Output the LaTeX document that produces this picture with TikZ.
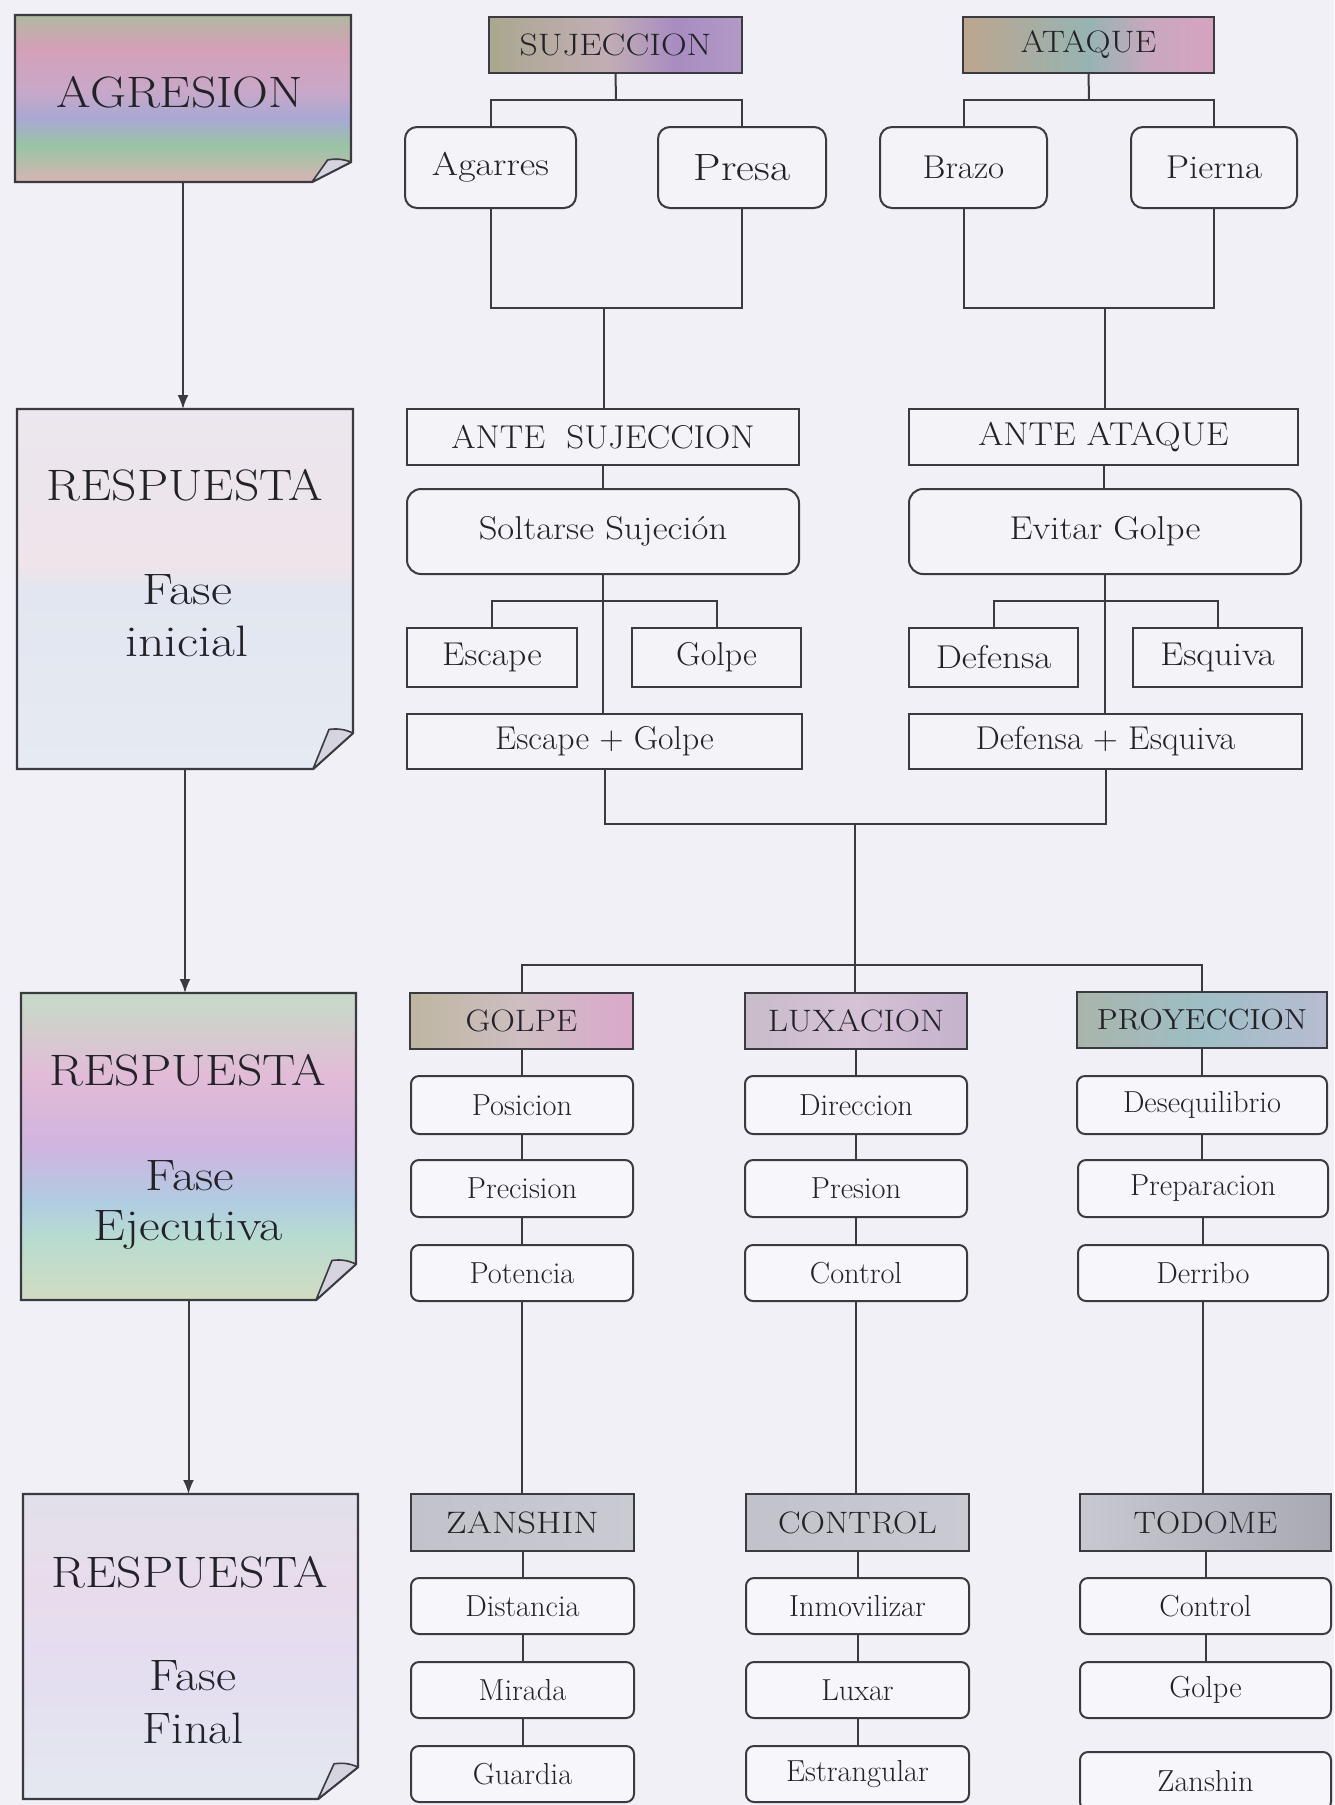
\documentclass[tikz,border=0pt]{standalone}
\usepackage{fontspec}
\usetikzlibrary{arrows.meta}
\definecolor{bgcol}{HTML}{F2F0F7}
\definecolor{lc}{HTML}{3A3A40}
\definecolor{tc}{HTML}{222228}
\definecolor{itemfill}{HTML}{F7F7FB}
\definecolor{midfill}{HTML}{F4F3F8}
\definecolor{flapc}{HTML}{D6D4DE}
\definecolor{sujA}{HTML}{A9A78F}\definecolor{sujB}{HTML}{C2AEB4}\definecolor{sujC}{HTML}{A88CC2}\definecolor{sujD}{HTML}{B29AC6}
\definecolor{ataA}{HTML}{BDA58E}\definecolor{ataB}{HTML}{96B4B2}\definecolor{ataC}{HTML}{C8A8BE}\definecolor{ataD}{HTML}{D6A2C0}
\definecolor{golA}{HTML}{BEB6A0}\definecolor{golB}{HTML}{CEBEC2}\definecolor{golC}{HTML}{DBA8CB}
\definecolor{luxA}{HTML}{C8BCCA}\definecolor{luxB}{HTML}{D6C2D6}\definecolor{luxC}{HTML}{C4B2CC}
\definecolor{proA}{HTML}{A9B5AB}\definecolor{proB}{HTML}{9EBEC4}\definecolor{proC}{HTML}{B8BCD2}
\definecolor{gryA}{HTML}{C2C2CA}\definecolor{gryB}{HTML}{CACAD2}
\definecolor{todA}{HTML}{C8C8D0}\definecolor{todB}{HTML}{A9A9B3}
\definecolor{agA}{HTML}{D8B4B4}\definecolor{agB}{HTML}{98C4A4}\definecolor{agC}{HTML}{A8A8D4}\definecolor{agD}{HTML}{C8A8C8}\definecolor{agE}{HTML}{D4A0B8}\definecolor{agF}{HTML}{B0B8A0}
\definecolor{raA}{HTML}{E6EAF2}\definecolor{raB}{HTML}{E2E6F0}\definecolor{raC}{HTML}{EEE4EA}\definecolor{raD}{HTML}{ECE6EE}
\definecolor{rbA}{HTML}{D2DCC2}\definecolor{rbB}{HTML}{B8DCD0}\definecolor{rbC}{HTML}{B0CCE2}\definecolor{rbD}{HTML}{D0B4E0}\definecolor{rbE}{HTML}{E2BCD6}\definecolor{rbF}{HTML}{C6DCC8}
\definecolor{rcA}{HTML}{E4E8F0}\definecolor{rcB}{HTML}{E4DEF0}\definecolor{rcC}{HTML}{E8DCEC}\definecolor{rcD}{HTML}{E2E0EA}
\pgfdeclarehorizontalshading{sujsh}{100bp}{color(0bp)=(sujA); color(25bp)=(sujA); color(48bp)=(sujB); color(62bp)=(sujC); color(75bp)=(sujD); color(100bp)=(sujD)}
\pgfdeclarehorizontalshading{atash}{100bp}{color(0bp)=(ataA); color(25bp)=(ataA); color(50bp)=(ataB); color(62bp)=(ataC); color(75bp)=(ataD); color(100bp)=(ataD)}
\pgfdeclarehorizontalshading{golsh}{100bp}{color(0bp)=(golA); color(25bp)=(golA); color(50bp)=(golB); color(75bp)=(golC); color(100bp)=(golC)}
\pgfdeclarehorizontalshading{luxsh}{100bp}{color(0bp)=(luxA); color(25bp)=(luxA); color(50bp)=(luxB); color(75bp)=(luxC); color(100bp)=(luxC)}
\pgfdeclarehorizontalshading{prosh}{100bp}{color(0bp)=(proA); color(25bp)=(proA); color(50bp)=(proB); color(75bp)=(proC); color(100bp)=(proC)}
\pgfdeclarehorizontalshading{grysh}{100bp}{color(0bp)=(gryA); color(25bp)=(gryA); color(75bp)=(gryB); color(100bp)=(gryB)}
\pgfdeclarehorizontalshading{todsh}{100bp}{color(0bp)=(todA); color(25bp)=(todA); color(75bp)=(todB); color(100bp)=(todB)}
\pgfdeclareverticalshading{agrsh}{100bp}{color(0bp)=(agA); color(25bp)=(agA); color(36bp)=(agB); color(44bp)=(agC); color(52bp)=(agD); color(65bp)=(agE); color(75bp)=(agF); color(100bp)=(agF)}
\pgfdeclareverticalshading{ronesh}{100bp}{color(0bp)=(raA); color(25bp)=(raA); color(50bp)=(raB); color(53bp)=(raC); color(75bp)=(raD); color(100bp)=(raD)}
\pgfdeclareverticalshading{rtwosh}{100bp}{color(0bp)=(rbA); color(25bp)=(rbA); color(35bp)=(rbB); color(41bp)=(rbC); color(50bp)=(rbD); color(62bp)=(rbE); color(75bp)=(rbF); color(100bp)=(rbF)}
\pgfdeclareverticalshading{rthreesh}{100bp}{color(0bp)=(rcA); color(25bp)=(rcA); color(45bp)=(rcB); color(60bp)=(rcC); color(75bp)=(rcD); color(100bp)=(rcD)}
\newcommand\fbig{\fontsize{22}{26}\selectfont}
\newcommand\fhead{\fontsize{15.5}{18}\selectfont}
\newcommand\fproy{\fontsize{14.5}{17}\selectfont}
\newcommand\fmid{\fontsize{16.5}{19}\selectfont}
\newcommand\fpresa{\fontsize{19}{22}\selectfont}
\newcommand\fitem{\fontsize{15.2}{18}\selectfont}
\newcommand\hs[2]{\scalebox{#1}[1]{#2}}
\newcommand\mybox[7]{%
 \pgfmathsetmacro\bxw{(#4-#2)*0.5}%
 \pgfmathsetmacro\bxh{(#5-#3)*0.5}%
 \pgfmathsetmacro\bxx{(#2+#4)/2}%
 \pgfmathsetmacro\bxy{(#3+#5)/2}%
 \node[#6, minimum width=\bxw pt, minimum height=\bxh pt] (#1) at (\bxx,\bxy) {#7};}
\newcommand\dogear[4]{%
 \path[bigbox, shading=#2] (#1.north west) -- (#1.north east) -- ([yshift=#4]#1.south east) -- ([xshift=-#3]#1.south east) -- (#1.south west) -- cycle;
 \path[flap] ([xshift=-#3]#1.south east) -- ++({0.4*#3},{1.1*#4}) to[bend left=15] ([yshift=#4]#1.south east) -- cycle;}
\begin{document}
\begin{tikzpicture}[x=0.5pt,y=-0.5pt,
  hdrbox/.style={draw=lc, line width=1pt, inner sep=0pt, outer sep=0pt, font=\fhead, text=tc},
  midbox/.style={draw=lc, line width=1pt, inner sep=0pt, outer sep=0pt, font=\fmid, text=tc, fill=midfill},
  rndbox/.style={midbox, rounded corners=6pt},
  itembox/.style={draw=lc, line width=1pt, inner sep=0pt, outer sep=0pt, font=\fitem, text=tc, fill=itemfill, rounded corners=4pt},
  bigbox/.style={draw=lc, line width=1.2pt},
  bigframe/.style={inner sep=0pt, outer sep=0pt},
  bigtext/.style={font=\fbig, text=tc, anchor=base, inner sep=0pt},
  flap/.style={draw=lc, line width=0.8pt, fill=flapc, line join=round},
  conn/.style={draw=lc, line width=1pt},
  arr/.style={conn, -{Latex[length=7pt,width=5.5pt]}}
]
\useasboundingbox (0,0) rectangle (1334,1805);
\fill[bgcol] (0,0) rectangle (1334,1805);

% ---------- left column ----------
\mybox{agr}{15}{15}{351}{182}{bigframe}{}
\dogear{agr}{agrsh}{19.5pt}{10pt}
\node[bigtext] (agrT) at (180,107) {\hs{1.13}{AGRESION}};

\mybox{r1}{17}{409}{353}{769}{bigframe}{}
\dogear{r1}{ronesh}{20pt}{18pt}
\node[bigtext] (r1a) at (185,500) {\hs{1.13}{RESPUESTA}};
\node[bigtext] (r1b) at (187,604) {\hs{1.17}{Fase}};
\node[bigtext] (r1c) at (187,656) {\hs{1.18}{inicial}};

\mybox{r2}{21}{993}{356}{1300}{bigframe}{}
\dogear{r2}{rtwosh}{20pt}{18pt}
\node[bigtext] (r2a) at (188,1085) {\hs{1.13}{RESPUESTA}};
\node[bigtext] (r2b) at (190,1190) {\hs{1.15}{Fase}};
\node[bigtext] (r2c) at (188,1240) {\hs{1.15}{Ejecutiva}};

\mybox{r3}{23}{1494}{358}{1799}{bigframe}{}
\dogear{r3}{rthreesh}{20pt}{16pt}
\node[bigtext] (r3a) at (190,1587) {\hs{1.13}{RESPUESTA}};
\node[bigtext] (r3b) at (193,1690) {\hs{1.12}{Fase}};
\node[bigtext] (r3c) at (193,1743) {\hs{1.1}{Final}};

\draw[arr] (agr.south) -- (agr.south |- r1.north);
\draw[arr] (r1.south) -- (r1.south |- r2.north);
\draw[arr] (r2.south) -- (r2.south |- r3.north);

% ---------- top ----------
\mybox{suj}{489}{17}{742}{73}{hdrbox, shading=sujsh}{\hs{1.15}{SUJECCION}}
\mybox{ataq}{963}{17}{1214}{73}{hdrbox, shading=atash}{\hs{1.12}{ATAQUE}}
\mybox{agar}{405}{127}{576}{208}{rndbox}{\hs{1.15}{Agarres}}
\mybox{presa}{658}{127}{826}{208}{rndbox, font=\fpresa}{\hs{1.15}{Presa}}
\mybox{brazo}{880}{127}{1047}{208}{rndbox}{\hs{1.06}{Brazo}}
\mybox{pierna}{1131}{127}{1297}{208}{rndbox}{\hs{1.12}{Pierna}}

\mybox{antesuj}{407}{409}{799}{465}{midbox}{\hs{1.06}{ANTE\ \ SUJECCION}}
\mybox{anteata}{909}{409}{1298}{465}{midbox}{\hs{1.1}{ANTE ATAQUE}}
\mybox{soltar}{407}{489}{799}{574}{midbox, rounded corners=7pt}{\hs{1.11}{Soltarse Sujeción}}
\mybox{evitar}{909}{489}{1301}{574}{midbox, rounded corners=7pt}{\hs{1.11}{Evitar Golpe}}
\mybox{esc}{407}{628}{577}{687}{midbox}{\hs{1.08}{Escape}}
\mybox{gol}{632}{628}{801}{687}{midbox}{\hs{1.03}{Golpe}}
\mybox{def}{909}{628}{1078}{687}{midbox}{\hs{1.12}{Defensa}}
\mybox{esq}{1133}{628}{1302}{687}{midbox}{\hs{1.11}{Esquiva}}
\mybox{escgol}{407}{714}{802}{769}{midbox}{\hs{1.02}{Escape + Golpe}}
\mybox{defesq}{909}{714}{1302}{769}{midbox}{\hs{1.04}{Defensa + Esquiva}}

\coordinate (sujTop) at (616,100);
\coordinate (sujBot) at (604,308);
\coordinate (ataTop) at (1089,100);
\coordinate (ataBot) at (1105,308);
\coordinate (escBr) at (604,601);
\coordinate (defBr) at (1105,601);
\coordinate (merge) at (855,824);
\coordinate (split) at (855,965);

\draw[conn] (suj.south) -- (sujTop);
\draw[conn] (agar.north) |- (sujTop) -| (presa.north);
\draw[conn] (agar.south) |- (sujBot) -| (presa.south);
\draw[conn] (sujBot) -- (sujBot |- antesuj.north);
\draw[conn] (ataq.south) -- (ataTop);
\draw[conn] (brazo.north) |- (ataTop) -| (pierna.north);
\draw[conn] (brazo.south) |- (ataBot) -| (pierna.south);
\draw[conn] (ataBot) -- (ataBot |- anteata.north);

\draw[conn] (antesuj.south) -- (antesuj.south |- soltar.north);
\draw[conn] (soltar.south) -- (soltar.south |- escgol.north);
\draw[conn] (esc.north) |- (escBr) -| (gol.north);
\draw[conn] (anteata.south) -- (anteata.south |- evitar.north);
\draw[conn] (evitar.south) -- (evitar.south |- defesq.north);
\draw[conn] (def.north) |- (defBr) -| (esq.north);

\draw[conn] (escgol.south) |- (merge) -| (defesq.south);
\draw[conn] (merge) -- (split);

% ---------- executive phase ----------
\mybox{golpeh}{410}{993}{633}{1049}{hdrbox, shading=golsh}{\hs{1.1}{GOLPE}}
\mybox{lux}{745}{993}{967}{1049}{hdrbox, shading=luxsh}{\hs{1.13}{LUXACION}}
\mybox{proy}{1077}{992}{1327}{1048}{hdrbox, shading=prosh, font=\fproy}{\hs{1.07}{PROYECCION}}

\draw[conn] (golpeh.north) |- (split) -| (proy.north);
\draw[conn] (split) -- (split |- lux.north);

\mybox{pos}{411}{1076}{633}{1134}{itembox}{Posicion}
\mybox{prec}{411}{1160}{633}{1217}{itembox}{Precision}
\mybox{pot}{411}{1245}{633}{1301}{itembox}{Potencia}
\mybox{dir}{745}{1076}{967}{1134}{itembox}{Direccion}
\mybox{pres}{745}{1160}{967}{1217}{itembox}{Presion}
\mybox{ctl}{745}{1245}{967}{1301}{itembox}{Control}
\mybox{deseq}{1077}{1076}{1327}{1134}{itembox}{Desequilibrio}
\mybox{prep}{1078}{1160}{1328}{1217}{itembox}{Preparacion}
\mybox{derr}{1078}{1245}{1328}{1301}{itembox}{Derribo}

% ---------- final phase ----------
\mybox{zan}{411}{1494}{634}{1551}{hdrbox, shading=grysh}{\hs{1.18}{ZANSHIN}}
\mybox{dist}{411}{1578}{634}{1634}{itembox}{Distancia}
\mybox{mir}{411}{1662}{634}{1718}{itembox}{Mirada}
\mybox{guar}{411}{1746}{634}{1802}{itembox}{Guardia}
\mybox{cont}{746}{1494}{969}{1551}{hdrbox, shading=grysh}{\hs{1.09}{CONTROL}}
\mybox{inm}{746}{1578}{969}{1634}{itembox}{Inmovilizar}
\mybox{luxar}{746}{1662}{969}{1718}{itembox}{Luxar}
\mybox{estr}{746}{1746}{969}{1802}{itembox}{Estrangular}
\mybox{tod}{1080}{1494}{1331}{1551}{hdrbox, shading=todsh}{\hs{1.08}{TODOME}}
\mybox{ctlb}{1080}{1578}{1331}{1634}{itembox}{Control}
\mybox{golc}{1080}{1662}{1331}{1718}{itembox}{Golpe}
\mybox{zanb}{1080}{1752}{1331}{1810}{itembox}{Zanshin}

% column stems
\foreach \a/\b in {golpeh/pos, pos/prec, prec/pot, pot/zan, zan/dist, dist/mir, mir/guar,
                   lux/dir, dir/pres, pres/ctl, ctl/cont, cont/inm, inm/luxar, luxar/estr,
                   proy/deseq, deseq/prep, prep/derr, derr/tod, tod/ctlb, ctlb/golc}
  \draw[conn] (\a.south) -- (\a.south |- \b.north);
\end{tikzpicture}
\end{document}
